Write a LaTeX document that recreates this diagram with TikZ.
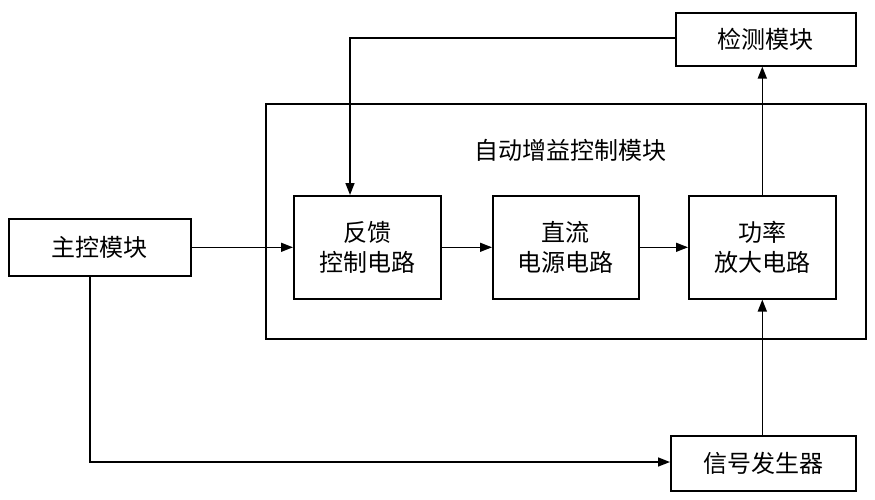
\documentclass[tikz,border=0pt]{standalone}
\usepackage{fontspec}
\newfontfamily\cjk{Noto Sans CJK SC}
\usetikzlibrary{arrows.meta}
\begin{document}
\begin{tikzpicture}[x=1pt,y=-1pt,
  box/.style={draw,line width=1.6pt,inner sep=0pt,anchor=north west,font=\cjk\fontsize{24}{30}\selectfont,align=center},
  arr/.style={line width=1.6pt,-{Triangle[length=12pt,width=9pt]}}]
\useasboundingbox (0,0) rectangle (875,500);
\node[box,minimum width=180pt,minimum height=53pt] (det) at (675,12) {检测模块};
\node[box,minimum width=600pt,minimum height=235pt] (agc) at (265,103) {};
\node[font=\cjk\fontsize{24}{30}\selectfont] (agct) at (570,150) {自动增益控制模块};
\node[box,minimum width=147pt,minimum height=103pt] (fb) at (293,195) {反馈\\控制电路};
\node[box,minimum width=146pt,minimum height=103pt] (dc) at (492,195) {直流\\电源电路};
\node[box,minimum width=147pt,minimum height=103pt] (pa) at (688,195) {功率\\放大电路};
\node[box,minimum width=182pt,minimum height=57pt] (mc) at (8,218) {主控模块};
\node[box,minimum width=185pt,minimum height=55pt] (sg) at (670,435) {信号发生器};
\coordinate (c1) at (350,38);
\coordinate (c2) at (90,462);
\draw[arr] (det.west |- c1) -- (c1) -- (fb.north -| c1);
\draw[arr] (mc.east) -- (fb.west |- mc.east);
\draw[arr] (fb) -- (dc);
\draw[arr] (dc) -- (pa);
\draw[arr] (pa.north) -- (det.south -| pa.north);
\draw[arr] (mc.south -| c2) -- (c2) -- (sg.west |- c2);
\draw[arr] (sg.north -| pa.south) -- (pa.south);
\end{tikzpicture}
\end{document}
